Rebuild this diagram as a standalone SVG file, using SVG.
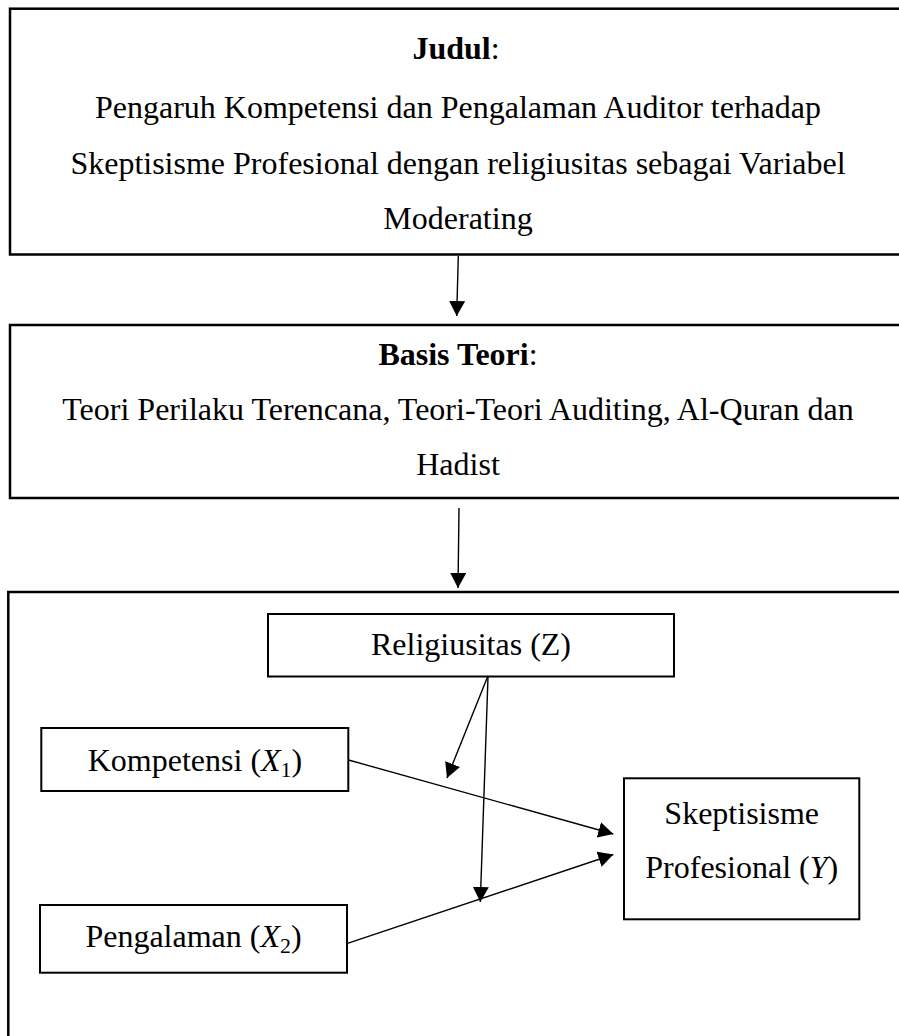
<svg xmlns="http://www.w3.org/2000/svg" width="899" height="1036" viewBox="0 0 899 1036">
<style>
.box{fill:none;stroke:#000;stroke-width:2.5}
.nbox{fill:#fff;stroke:#000;stroke-width:2}
.t{font-family:"Liberation Serif","Times New Roman",serif;font-size:32px;fill:#000;text-anchor:middle}
.b{font-weight:bold}
.i{font-style:italic}
.conn{stroke:#000;stroke-width:1.4;fill:none;marker-end:url(#ah)}
</style>
<defs>
<marker id="ah" markerUnits="userSpaceOnUse" viewBox="0 0 16 16" markerWidth="16" markerHeight="16" refX="15" refY="8" orient="auto">
<path d="M0,0 L15,8 L0,16 Z" fill="#000"/>
</marker>
</defs>
<rect width="899" height="1036" fill="#fff"/>
<g id="judul">
<rect class="box" x="10" y="8.7" width="900" height="245.8"/>
<text class="t" x="456" y="59"><tspan class="b">Judul</tspan>:</text>
<text class="t" x="458" y="118">Pengaruh Kompetensi dan Pengalaman Auditor terhadap</text>
<text class="t" x="458" y="174">Skeptisisme Profesional dengan religiusitas sebagai Variabel</text>
<text class="t" x="458" y="229">Moderating</text>
</g>
<g id="basis-teori">
<rect class="box" x="10" y="325" width="900" height="173"/>
<text class="t" x="458" y="365"><tspan class="b">Basis Teori</tspan>:</text>
<text class="t" x="458" y="420">Teori Perilaku Terencana, Teori-Teori Auditing, Al-Quran dan</text>
<text class="t" x="458" y="475">Hadist</text>
</g>
<g id="kerangka">
<rect class="box" x="8.3" y="592" width="902" height="460"/>
</g>
<g id="religiusitas">
<rect class="nbox" x="268" y="614" width="406" height="62.5"/>
<text class="t" x="471" y="655">Religiusitas (Z)</text>
</g>
<g id="kompetensi">
<rect class="nbox" x="41.3" y="728" width="307" height="63"/>
<text class="t" x="195" y="771">Kompetensi (<tspan class="i">X</tspan><tspan font-size="22" dy="6">1</tspan><tspan dy="-6">)</tspan></text>
</g>
<g id="pengalaman">
<rect class="nbox" x="40" y="905" width="307" height="67.7"/>
<text class="t" x="193.5" y="947">Pengalaman (<tspan class="i">X</tspan><tspan font-size="22" dy="6">2</tspan><tspan dy="-6">)</tspan></text>
</g>
<g id="skeptisisme">
<rect class="nbox" x="624" y="778.3" width="235.3" height="141"/>
<text class="t" x="741.7" y="824">Skeptisisme</text>
<text class="t" x="741.7" y="878">Profesional (<tspan class="i">Y</tspan>)</text>
</g>
<g id="connectors">
<line class="conn" x1="458.3" y1="256" x2="456.7" y2="316"/>
<line class="conn" x1="459" y1="508" x2="458" y2="588"/>
<line class="conn" x1="487.5" y1="677" x2="447" y2="778"/>
<line class="conn" x1="488" y1="677" x2="480.3" y2="902"/>
<line class="conn" x1="348.5" y1="760" x2="613.3" y2="834"/>
<line class="conn" x1="347.5" y1="943.3" x2="613.3" y2="854.5"/>
</g>
</svg>
